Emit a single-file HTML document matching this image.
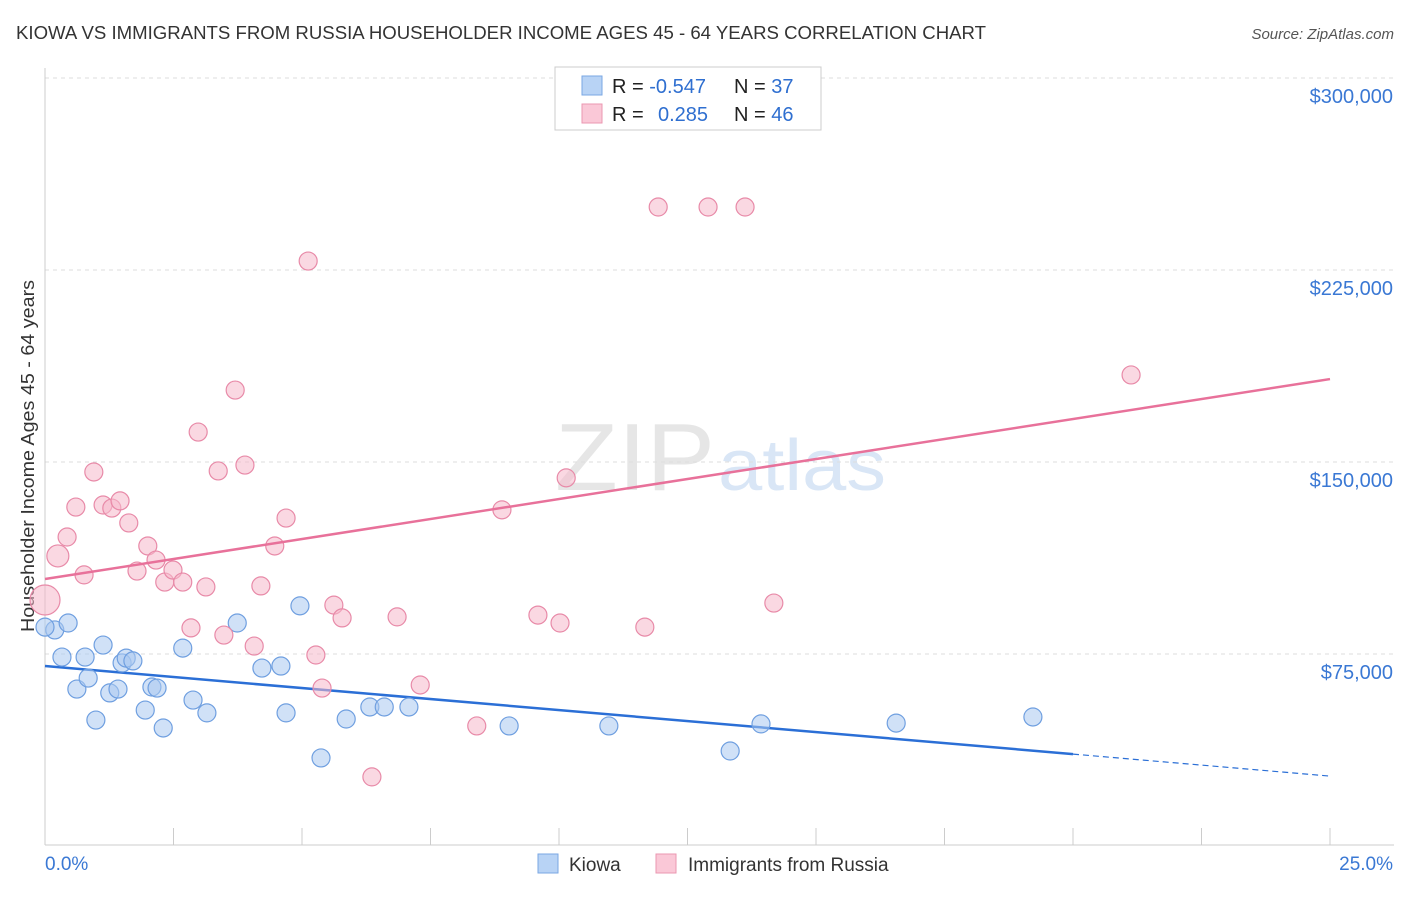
<!DOCTYPE html>
<html><head><meta charset="utf-8"><style>
body{margin:0;background:#fff;font-family:"Liberation Sans",sans-serif}
svg text{font-family:"Liberation Sans",sans-serif}
</style></head><body>
<svg id="c" width="1406" height="892">
<text x="16" y="39" font-size="18" fill="#333" textLength="970" lengthAdjust="spacingAndGlyphs">KIOWA VS IMMIGRANTS FROM RUSSIA HOUSEHOLDER INCOME AGES 45 - 64 YEARS CORRELATION CHART</text>
<text x="1394" y="39" font-size="15" fill="#555" font-style="italic" text-anchor="end">Source: ZipAtlas.com</text>
<text x="555" y="490" font-size="96" fill="#e6e6e6" font-family="Liberation Serif" textLength="160" lengthAdjust="spacingAndGlyphs">ZIP</text>
<text x="718" y="490" font-size="72" fill="#d9e6f6" textLength="168" lengthAdjust="spacingAndGlyphs">atlas</text>
<text transform="translate(34,456) rotate(-90)" font-size="18" fill="#333" text-anchor="middle" textLength="352" lengthAdjust="spacingAndGlyphs">Householder Income Ages 45 - 64 years</text>
<g id="grid"></g><g id="lines"></g><g id="pts"></g>
<rect x="555" y="67" width="266" height="63" fill="#fff" stroke="#ccc"/>
<g id="lines2"></g>
<rect x="582" y="76" width="20" height="19" fill="#b8d3f5" stroke="#7aa7e3"/>
<rect x="582" y="104" width="20" height="19" fill="#fac8d7" stroke="#eb97b1"/>
<text x="612" y="93" font-size="20" fill="#222">R = <tspan fill="#2f6fd0">-0.547</tspan><tspan x="734">N = </tspan><tspan fill="#2f6fd0">37</tspan></text>
<text x="612" y="121" font-size="20" fill="#222">R = <tspan x="658" fill="#2f6fd0">0.285</tspan><tspan x="734">N = </tspan><tspan fill="#2f6fd0">46</tspan></text>
<rect x="538" y="854" width="20" height="19" fill="#b8d3f5" stroke="#7aa7e3"/>
<text x="569" y="871" font-size="19" fill="#333">Kiowa</text>
<rect x="656" y="854" width="20" height="19" fill="#fac8d7" stroke="#eb97b1"/>
<text x="688" y="871" font-size="19" fill="#333">Immigrants from Russia</text>
</svg>
<script>
const yTicks=[75000,150000,225000,300000];
const yTickLabels=["$75,000","$150,000","$225,000","$300,000"];
const xTickLabels=["0.0%","25.0%"];
const kiowaX=[0.19,0.45,0.33,0.78,0.62,0.84,0.99,1.13,1.26,1.42,1.50,1.58,1.71,1.95,2.08,2.18,2.30,2.68,2.88,3.15,3.74,4.22,4.59,4.69,4.96,5.37,5.86,6.32,6.60,7.08,9.03,10.97,13.33,13.93,16.56,19.22,0.0];
const kiowaY=[84.4,87.1,73.8,73.8,61.3,65.6,49.2,78.5,59.8,61.3,71.5,73.4,72.3,53.1,62.1,61.7,46.1,77.3,57.0,52.0,87.1,69.5,70.3,52.0,93.8,34.4,49.6,54.3,54.3,54.3,46.9,46.9,37.1,47.7,48.0,50.4,85.5];
const russiaX=[0,0.25,0.43,0.60,0.76,0.95,1.13,1.30,1.46,1.63,1.79,2.00,2.16,2.33,2.49,2.68,2.84,2.98,3.13,3.37,3.48,3.70,3.89,4.07,4.20,4.47,4.69,5.12,5.27,5.39,5.62,5.78,6.36,6.85,7.30,8.40,8.89,9.59,10.02,10.14,11.67,11.93,12.90,13.62,14.18,21.13];
const russiaY=[96.1,113.3,120.7,132.4,105.9,146.1,133.2,132.0,134.8,126.2,107.4,117.2,111.7,103.1,107.8,103.1,85.2,161.7,101.2,146.5,82.4,178.1,148.8,78.1,101.6,117.2,128.1,228.5,74.6,61.7,94.1,89.1,27.0,89.5,62.9,46.9,131.3,90.2,87.1,143.8,85.5,249.6,249.6,249.6,94.9,184.0];
const russiaR=[15,11,9,9,9,9,9,9,9,9,9,9,9,9,9,9,9,9,9,9,9,9,9,9,9,9,9,9,9,9,9,9,9,9,9,9,9,9,9,9,9,9,9,9,9,9];
const kiowaTrend=[70.3,-1.72];
const russiaTrend=[104.3,3.124];
const NS="http://www.w3.org/2000/svg";
const X=v=>45+v/25*1285, Y=v=>846-v/75000*192;
function mk(t,a,p){const e=document.createElementNS(NS,t);for(const k in a)e.setAttribute(k,a[k]);document.getElementById(p).appendChild(e);return e;}
yTicks.forEach((t,i)=>{
 const g=mk('line',{x1:45,x2:1394,y1:Y(t),y2:Y(t),stroke:'#ddd','stroke-dasharray':'4,4'},'grid');
 
 
 const l=mk('text',{x:1393,y:Y(t)+25,'font-size':20,fill:'#3a78d4','text-anchor':'end'},'grid');l.textContent=yTickLabels[i];
 
 
});
mk('line',{x1:45,x2:1394,y1:78,y2:78,stroke:'#ddd','stroke-dasharray':'4,4'},'grid');
const ax=mk('line',{x1:45,x2:1394,y1:845,y2:845,stroke:'#ccc'},'grid');


const ay=mk('line',{x1:45,x2:45,y1:68,y2:845,stroke:'#ccc'},'grid');


for(let i=1;i<=10;i++){const t=mk('line',{x1:X(i*2.5),x2:X(i*2.5),y1:828,y2:845,stroke:'#ccc'},'grid');
 
 }
const x0=mk('text',{x:45,y:870,'font-size':19,fill:'#3a78d4'},'grid');x0.textContent=xTickLabels[0];


const x1=mk('text',{x:1393,y:870,'font-size':19,fill:'#3a78d4','text-anchor':'end'},'grid');x1.textContent=xTickLabels[1];


const ty=(tr,x)=>Y((tr[0]+tr[1]*x)*1000);
let l1=mk('line',{x1:X(0),y1:ty(kiowaTrend,0),x2:X(20),y2:ty(kiowaTrend,20),stroke:'#2b6fd6','stroke-width':2.5},'lines');


let l2=mk('line',{x1:X(20),y1:ty(kiowaTrend,20),x2:X(25),y2:ty(kiowaTrend,25),stroke:'#2b6fd6','stroke-width':1.2,'stroke-dasharray':'6,4'},'lines');


let l3=mk('line',{x1:X(0),y1:ty(russiaTrend,0),x2:X(25),y2:ty(russiaTrend,25),stroke:'#e8719a','stroke-width':2.5},'lines2');


kiowaX.forEach((v,i)=>{const c=mk('circle',{cx:X(v),cy:Y(kiowaY[i]*1000),r:9,fill:'rgba(169,200,240,0.55)',stroke:'#6f9fe0','stroke-width':1.2},'pts');
 
 });
russiaX.forEach((v,i)=>{const c=mk('circle',{cx:X(v),cy:Y(russiaY[i]*1000),r:russiaR[i],fill:'rgba(245,184,203,0.55)',stroke:'#e88aa8','stroke-width':1.2},'pts');
 
 });
</script>
</body></html>
